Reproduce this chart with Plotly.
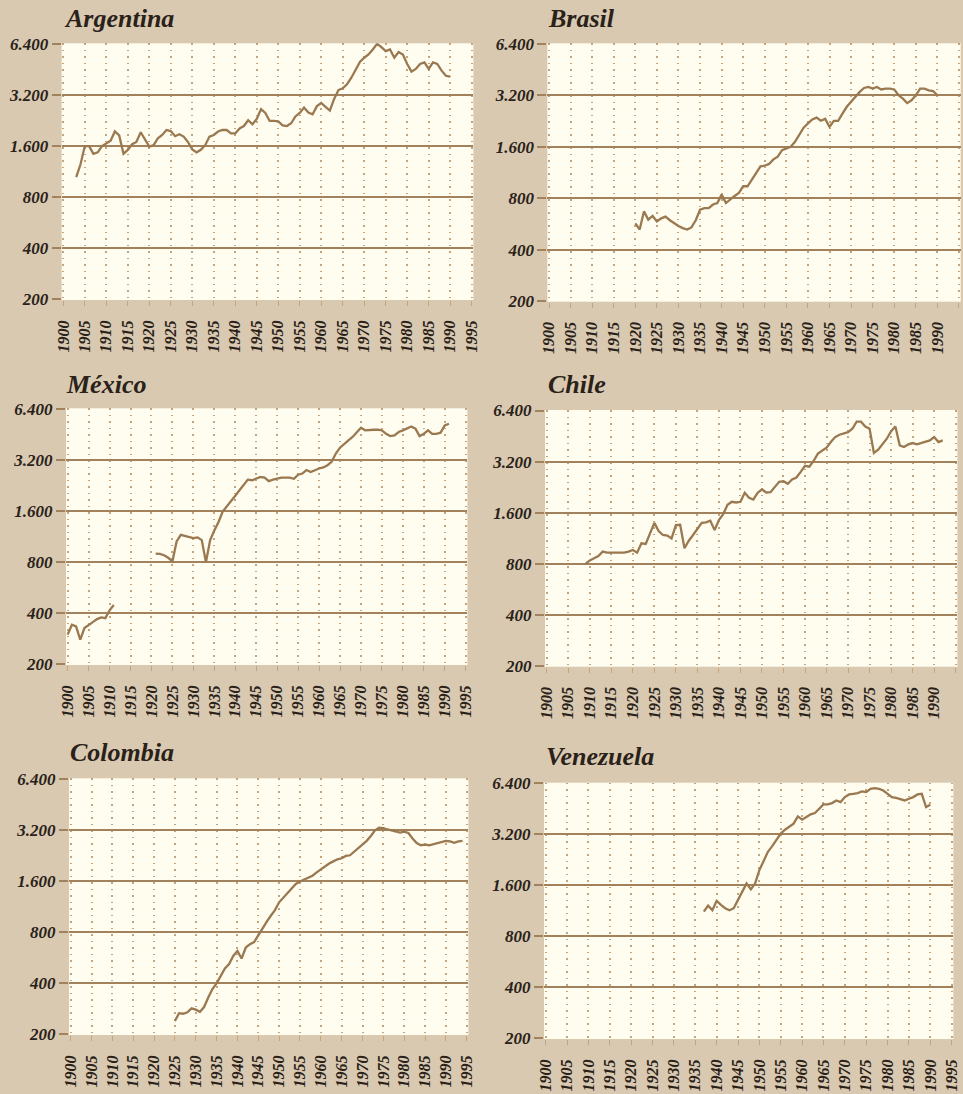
import math

import plotly.graph_objects as go

# Colours picked off the scanned page
PAPER = "#d8c9b0"
PLOT_BG = "#fffdf0"
GRID = "#a2815d"
DOTS = "#c4a47c"
LINE = "#9a7850"
INK = "#2a2119"
FONT = "Liberation Serif"

ARG_YEARS = list(range(1903, 1991))
ARG_GDP = [
    1050, 1250, 1600, 1600, 1440, 1470, 1600, 1650, 1720, 1950,
    1850, 1440, 1520, 1640, 1690, 1930, 1740, 1590, 1620, 1780,
    1860, 1990, 1960, 1830, 1880, 1820, 1690, 1530, 1470, 1520,
    1620, 1820, 1860, 1950, 1990, 1990, 1900, 1900, 2030, 2100,
    2270, 2150, 2310, 2640, 2510, 2250, 2250, 2240, 2120, 2100,
    2180, 2390, 2510, 2700, 2520, 2460, 2750, 2870, 2720, 2590,
    3030, 3420, 3500, 3700, 4040, 4550, 5010, 5300, 5540, 5920,
    6400, 6120, 5800, 5930, 5300, 5720, 5530, 4870, 4390, 4550,
    4870, 4980, 4550, 4980, 4870, 4450, 4150, 4100,
]

BRA_YEARS = list(range(1920, 1991))
BRA_GDP = [
    570, 525, 670, 600, 630, 585, 610, 625, 595, 570,
    550, 535, 525, 540, 595, 685, 700, 700, 735, 750,
    840, 750, 790, 825, 860, 940, 940, 1030, 1130, 1230,
    1240, 1270, 1350, 1400, 1530, 1570, 1600, 1710, 1890, 2070,
    2190, 2310, 2370, 2270, 2330, 2090, 2270, 2270, 2500, 2740,
    2930, 3140, 3350, 3530, 3580, 3500, 3580, 3460, 3500, 3500,
    3460, 3200, 3060, 2880, 2990, 3200, 3500, 3500, 3420, 3390,
    3200,
]

MEX_YEARS = list(range(1900, 1912)) + list(range(1921, 1992))
MEX_GDP = [
    300, 343, 335, 280, 328, 343, 355, 370, 379, 375, 417, 448,
    900, 895, 880, 850, 810, 1060, 1160, 1140, 1120, 1110,
    1120, 1080, 800, 1080, 1230, 1380, 1590, 1700, 1820, 1970,
    2120, 2270, 2450, 2430, 2480, 2540, 2520, 2400, 2450, 2480,
    2520, 2520, 2520, 2480, 2620, 2660, 2790, 2720, 2800, 2850,
    2890, 2980, 3120, 3490, 3780, 3950, 4170, 4370, 4630, 4950,
    4780, 4820, 4820, 4820, 4780, 4560, 4420, 4460, 4670, 4780,
    4890, 5040, 4890, 4420, 4560, 4780, 4560, 4560, 4630, 5110,
    5230,
]

CHL_YEARS = list(range(1909, 1993))
CHL_GDP = [
    800, 839, 864, 891, 945, 932, 932, 932, 932, 932,
    945, 966, 932, 1057, 1048, 1196, 1396, 1250, 1184, 1175,
    1131, 1354, 1360, 989, 1096, 1184, 1279, 1396, 1405, 1437,
    1265, 1450, 1572, 1782, 1857, 1840, 1857, 2097, 1960, 1916,
    2097, 2195, 2107, 2117, 2273, 2434, 2456, 2369, 2512, 2580,
    2785, 3022, 2990, 3229, 3566, 3732, 3867, 4175, 4464, 4608,
    4712, 4777, 4998, 5500, 5500, 5150, 5000, 3597, 3764, 4046,
    4366, 4838, 5150, 3990, 3902, 4046, 4118, 4046, 4118, 4150,
    4268, 4464, 4175, 4268,
]

COL_YEARS = list(range(1925, 1995))
COL_GDP = [
    240, 267, 265, 270, 285, 280, 272, 290, 330, 370,
    400, 440, 490, 520, 580, 620, 560, 650, 680, 700,
    770, 840, 920, 1000, 1080, 1200, 1280, 1350, 1450, 1540,
    1590, 1630, 1680, 1720, 1800, 1880, 1950, 2030, 2090, 2150,
    2180, 2250, 2270, 2380, 2480, 2600, 2760, 2950, 3180, 3300,
    3280, 3220, 3180, 3120, 3090, 3130, 3070, 2850, 2680, 2600,
    2620, 2600, 2640, 2680, 2710, 2760, 2740, 2690, 2740, 2760,
]

VEN_YEARS = list(range(1937, 1991))
VEN_GDP = [
    1120, 1215, 1140, 1296, 1228, 1172, 1140, 1172, 1313, 1467,
    1643, 1515, 1643, 1968, 2253, 2521, 2722, 2952, 3229, 3405,
    3532, 3697, 4081, 3902, 4046, 4193, 4268, 4525, 4798, 4798,
    4886, 5063, 4952, 5300, 5494, 5543, 5593, 5720, 5670, 5925,
    5983, 5925, 5798, 5543, 5300, 5250, 5180, 5063, 5180, 5300,
    5494, 5543, 4630, 4777,
]

Y_TICKS = [200, 400, 800, 1600, 3200, 6400]
Y_LABELS = ["200", "400", "800", "1.600", "3.200", "6.400"]
X_TICKS = list(range(1900, 1996, 5))

# name, years, values, plot box in pixels (left, right, top, bottom), title pos (x, bottom)
PANELS = [
    ("Argentina", ARG_YEARS, ARG_GDP, (61.6, 473.4, 43.3, 300.0), (62, 35)),
    ("Brasil", BRA_YEARS, BRA_GDP, (547.3, 960.7, 43.3, 301.7), (546, 35)),
    ("México", MEX_YEARS, MEX_GDP, (66.0, 467.4, 408.3, 665.0), (64, 401)),
    ("Chile", CHL_YEARS, CHL_GDP, (545.0, 957.4, 410.0, 666.7), (546, 401)),
    ("Colombia", COL_YEARS, COL_GDP, (69.0, 468.4, 778.3, 1035.0), (68, 769)),
    ("Venezuela", VEN_YEARS, VEN_GDP, (544.0, 953.4, 782.7, 1039.0), (544, 773)),
]

W, H = 963, 1094


def _with_gaps(years, values):
    """Break the line where years are missing."""
    xs, ys = [], []
    for i, (yr, v) in enumerate(zip(years, values)):
        if i and yr - years[i - 1] > 1:
            xs.append(None)
            ys.append(None)
        xs.append(yr)
        ys.append(v)
    return xs, ys


tick_font = dict(family=FONT, size=17, color=INK, style="italic", weight="bold")

fig = go.Figure()
layout = {}
annotations = []

for i, (name, years, values, box, tpos) in enumerate(PANELS, start=1):
    assert len(years) == len(values), name
    left, right, top, bottom = box
    sfx = "" if i == 1 else str(i)
    xs, ys = _with_gaps(years, values)
    fig.add_trace(
        go.Scatter(
            x=xs,
            y=ys,
            mode="lines",
            line=dict(color=LINE, width=2.3),
            connectgaps=False,
            showlegend=False,
            xaxis="x" + sfx,
            yaxis="y" + sfx,
            hovertemplate=name + " %{x}: %{y:,.0f}<extra></extra>",
        )
    )
    layout["xaxis" + sfx] = dict(
        domain=[left / W, right / W],
        range=[1899.6, 1995.4],
        anchor="y" + sfx,
        automargin=False,
        tickvals=X_TICKS,
        tickangle=-90,
        tickfont=dict(tick_font, size=16),
        ticklabelstandoff=8,
        showgrid=True,
        gridcolor=DOTS,
        griddash="1.5px,5px",
        gridwidth=1.5,
        ticks="outside",
        ticklen=5,
        tickcolor=DOTS,
        zeroline=False,
        showline=False,
        fixedrange=True,
    )
    layout["yaxis" + sfx] = dict(
        domain=[1 - bottom / H, 1 - top / H],
        type="log",
        range=[math.log10(200) - 0.003, math.log10(6400) + 0.003],
        anchor="x" + sfx,
        automargin=False,
        tickvals=Y_TICKS,
        ticktext=Y_LABELS,
        tickfont=tick_font,
        showgrid=True,
        gridcolor=GRID,
        gridwidth=1.6,
        ticks="outside",
        ticklen=9,
        tickwidth=1.6,
        tickcolor=GRID,
        zeroline=False,
        showline=False,
        fixedrange=True,
    )
    annotations.append(
        dict(
            text=name,
            x=tpos[0] / W,
            y=1 - tpos[1] / H,
            xref="paper",
            yref="paper",
            xanchor="left",
            yanchor="bottom",
            showarrow=False,
            font=dict(family=FONT, size=26, color=INK, style="italic", weight="bold"),
        )
    )

fig.update_layout(
    width=W,
    height=H,
    margin=dict(l=0, r=0, t=0, b=0, autoexpand=False),
    paper_bgcolor=PAPER,
    plot_bgcolor=PLOT_BG,
    annotations=annotations,
    **layout,
)

# drop the browser's default body margin so the figure sits at the page corner
fig.write_html(
    "out.html",
    config={"displayModeBar": False},
    post_script="document.body.style.margin='0';document.body.style.overflow='hidden';",
)
